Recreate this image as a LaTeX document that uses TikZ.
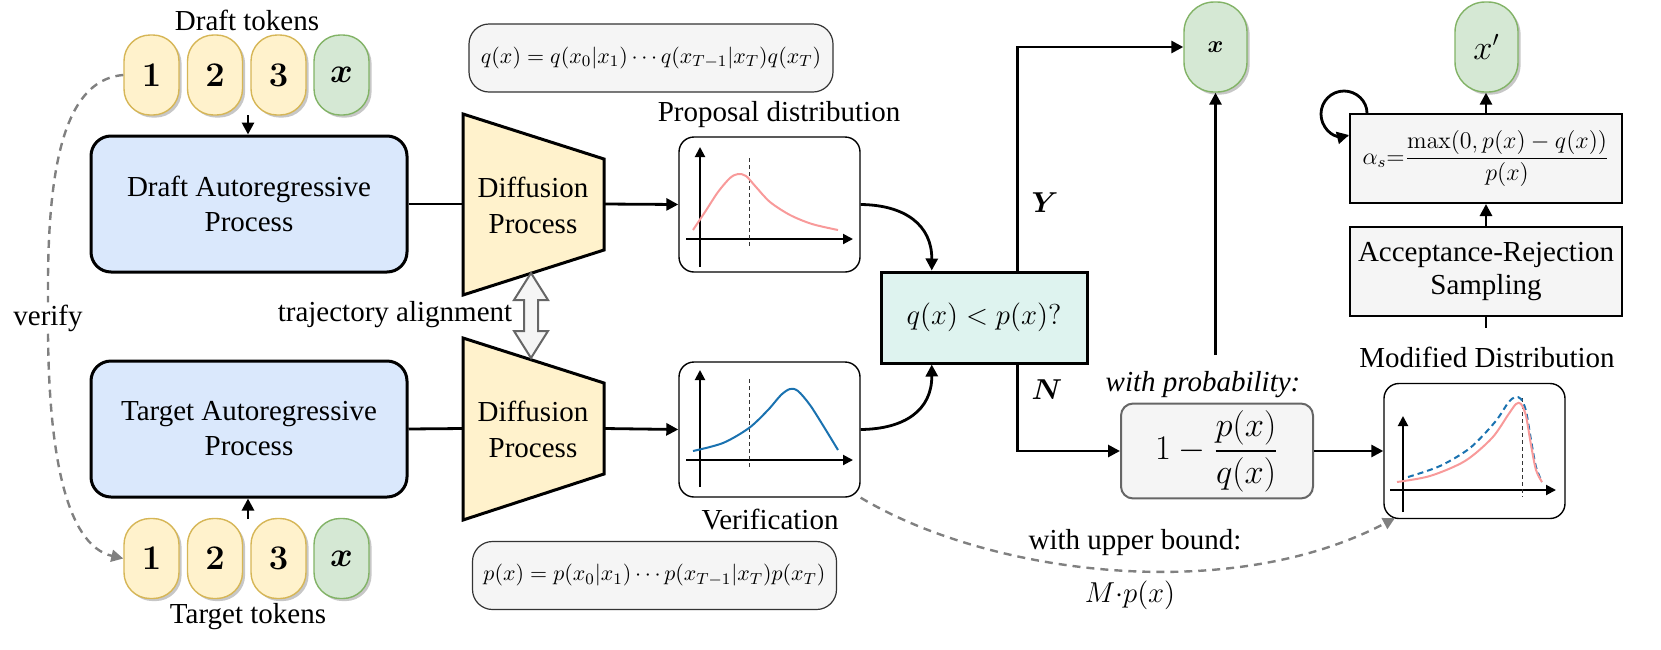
\documentclass[tikz,border=0pt]{standalone}
\usepackage[no-math]{fontspec}
\setmainfont{Liberation Serif}
\usepackage{amsmath}
\usepackage{bm}
\usetikzlibrary{arrows.meta,shadows,calc}
\definecolor{arblue}{HTML}{DAE8FC}
\definecolor{trapfill}{HTML}{FFF2CC}
\definecolor{tokyfill}{HTML}{FFF2CC}
\definecolor{tokydraw}{HTML}{D6B656}
\definecolor{tokgfill}{HTML}{D5E8D4}
\definecolor{tokgdraw}{HTML}{82B366}
\definecolor{lightgr}{HTML}{F5F5F5}
\definecolor{midgr}{HTML}{666666}
\definecolor{decfill}{HTML}{DEF3EF}
\definecolor{dashgr}{HTML}{808080}
\definecolor{curvered}{HTML}{F89A9A}
\definecolor{curveblue}{HTML}{1A72B0}
\begin{document}
\begin{tikzpicture}[x=0.5pt,y=-0.5pt,
  tokbox/.style={draw=tokydraw, fill=tokyfill, line width=0.7pt, rounded corners=13pt,
    minimum width=27.5pt, minimum height=40pt, inner sep=0pt,
    drop shadow={shadow xshift=1.3pt, shadow yshift=-1.3pt, fill=black!22, opacity=1},
    font=\fontsize{16}{19}\selectfont},
  tokgreen/.style={tokbox, draw=tokgdraw, fill=tokgfill},
  arbox/.style={draw=black, fill=arblue, line width=1.5pt, rounded corners=10pt,
    minimum width=158pt, minimum height=68pt, align=center, font=\fontsize{14.5}{17.5}\selectfont},
  gbox/.style={draw=black, line width=0.7pt, rounded corners=7.5pt,
    minimum width=90.5pt, minimum height=67.5pt, inner sep=0pt},
  formbox/.style={draw=black!80, fill=lightgr, line width=0.6pt, rounded corners=10pt,
    minimum width=182pt, minimum height=34pt, font=\fontsize{11.2}{13}\selectfont},
  decbox/.style={draw=black, fill=decfill, line width=1.5pt, minimum width=103pt,
    minimum height=45.5pt, font=\fontsize{14.5}{17}\selectfont},
  fracbox/.style={draw=midgr, fill=lightgr, line width=1pt, rounded corners=6pt,
    minimum width=96pt, minimum height=45pt, font=\fontsize{17}{20}\selectfont},
  sbox/.style={draw=black, fill=lightgr, line width=1pt, minimum width=136pt,
    minimum height=44.5pt, align=center, inner sep=1pt},
  lbl/.style={font=\fontsize{14.5}{17}\selectfont, inner sep=1pt},
  wire/.style={line width=1.4pt},
  arr/.style={wire, -{Triangle[length=6pt,width=6pt]}},
  gdash/.style={draw=dashgr, line width=1.2pt, dash pattern=on 4pt off 3pt,
    -{Triangle[length=6pt,width=6pt]}},
  axis/.style={line width=1pt, -{Triangle[length=5pt,width=5pt]}},
  vdash/.style={line width=0.5pt, dash pattern=on 2pt off 1.5pt, black!80},
  redc/.style={draw=curvered, line width=1pt},
  bluec/.style={draw=curveblue, line width=1pt},
  trapz/.style={draw=black, fill=trapfill, line width=1.5pt, line join=miter},
  dblarr/.style={draw=midgr, fill=lightgr, line width=1pt, line join=miter}
]
\useasboundingbox (0,0) rectangle (1661,649);

% ---------- tokens ----------
\node[lbl] (dtlab) at (247,20) {Draft tokens};
\node[tokbox] (t1) at (151.5,75) {$\mathbf{1}$};
\node[tokbox] (t2) at (215,75) {$\mathbf{2}$};
\node[tokbox] (t3) at (278.5,75) {$\mathbf{3}$};
\node[tokgreen] (t4) at (341.5,75) {$\bm{x}$};

\node[tokbox] (b1) at (151.5,558.5) {$\mathbf{1}$};
\node[tokbox] (b2) at (215,558.5) {$\mathbf{2}$};
\node[tokbox] (b3) at (278.5,558.5) {$\mathbf{3}$};
\node[tokgreen] (b4) at (341.5,558.5) {$\bm{x}$};
\node[lbl] (ttlab) at (248,617) {Target tokens};

% ---------- AR boxes ----------
\node[arbox] (draft) at (249,204) {Draft Autoregressive\\Process};
\node[arbox] (target) at (249,429) {Target Autoregressive\\Process};

\coordinate (dtrow) at (248,115);
\coordinate (ttrow) at (248,519);
\draw[arr] (dtrow) -- (draft.north -| dtrow);
\draw[arr] (ttrow) -- (target.south -| ttrow);

% verify
\node[lbl, fill=white] (vlab) at (48,318) {verify};
\draw[draw=dashgr, line width=1.2pt, dash pattern=on 4pt off 3pt] (t1.west) .. controls (60,80) and (47,180) .. (vlab.north);
\draw[gdash] (vlab.south) .. controls (49,450) and (65,545) .. (b1.west);

% ---------- diffusion trapezoids ----------
\draw[trapz] (463,114) -- (604,159) -- (604,250) -- (463,295) -- cycle;
\node[lbl, align=center, font=\fontsize{14.5}{18}\selectfont] (dif1) at (533,205) {Diffusion\\Process};
\coordinate (dif1w) at (463,204);
\coordinate (dif1e) at (604,204);

\draw[trapz] (463,338) -- (604,383) -- (604,474) -- (463,520) -- cycle;
\node[lbl, align=center, font=\fontsize{14.5}{18}\selectfont] (dif2) at (533,429) {Diffusion\\Process};
\coordinate (dif2w) at (463,428.5);
\coordinate (dif2e) at (604,428.5);

\draw[wire] (draft.east) -- (dif1w);
\draw[wire] (target.east) -- (dif2w);

% trajectory alignment
\draw[dblarr] (531,273) -- (548,300) -- (538,300) -- (538,331) -- (548,331) -- (531,358)
  -- (514,331) -- (524,331) -- (524,300) -- (514,300) -- cycle;
\node[lbl] (talab) at (395,315) {trajectory alignment};

% ---------- formula boxes ----------
\node[formbox] (qform) at (651,58) {$q(x)=q(x_0|x_1)\cdots q(x_{T-1}|x_T)q(x_T)$};
\node[formbox] (pform) at (654.5,575.5) {$p(x)=p(x_0|x_1)\cdots p(x_{T-1}|x_T)p(x_T)$};

% ---------- graphs ----------
\node[lbl] (proplab) at (779,115) {Proposal distribution};
\node[gbox] (prop) at (769.5,204.5) {};
\draw[axis] (700,267) -- (700,147);
\draw[axis] (686,239) -- (853,239);
\draw[vdash] (749,158) -- (749,249);
\draw[redc] plot[smooth] coordinates {(693,230) (705,212) (718,192) (730,178) (738,174) (746,176) (756,187) (770,202) (790,215) (812,224) (838,230)};

\node[gbox] (ver) at (769.5,429.5) {};
\draw[axis] (700,487) -- (700,370);
\draw[axis] (686,460) -- (853,460);
\draw[vdash] (749,379) -- (749,470);
\draw[bluec] plot[smooth] coordinates {(693,451) (723,443) (749,428) (768,410) (781,395) (790,389) (798,391) (810,405) (824,427) (838,450)};
\node[lbl] (verlab) at (770,520) {Verification};

\draw[arr] (dif1e) -- (prop.west);
\draw[arr] (dif2e) -- (ver.west);

% ---------- decision ----------
\node[decbox] (dec) at (984,317.5) {$q(x) < p(x)?$};
\coordinate (decTL) at ($(dec.north west)!0.25!(dec.north east)$);
\coordinate (decBL) at ($(dec.south west)!0.25!(dec.south east)$);
\coordinate (decTR) at ($(dec.north west)!0.66!(dec.north east)$);
\coordinate (decBR) at ($(dec.south west)!0.66!(dec.south east)$);
\draw[arr] (prop.east) .. controls (905,205) and (932,225) .. (decTL);
\draw[arr] (ver.east) .. controls (905,429) and (932,410) .. (decBL);

\node[tokgreen, minimum width=31.5pt, minimum height=45pt, rounded corners=15pt,
  font=\fontsize{13}{15}\selectfont] (xout) at (1215.5,47) {$\bm{x}$};
\draw[arr] (decTR) |- (xout.west);
\node[font=\fontsize{13.5}{16}\selectfont] (ylab) at (1045,203) {$\bm{Y}$};
\node[font=\fontsize{13.5}{16}\selectfont] (nlab) at (1047,390) {$\bm{N}$};

\node[fracbox] (frac) at (1217,451) {$1-\dfrac{p(x)}{q(x)}$};
\draw[arr] (decBR) |- (frac.west);
\node[lbl, font=\fontsize{14.5}{17}\selectfont\itshape] (wplab) at (1203,385) {with probability:};

\coordinate (vstart) at (1215.5,355);
\draw[arr] (vstart) -- (xout.south);

% ---------- modified distribution ----------
\node[lbl] (modlab) at (1487,357) {Modified Distribution};
\node[gbox] (mod) at (1474.5,451) {};
\draw[axis] (1403,512) -- (1403,416);
\draw[axis] (1390,490) -- (1556,490);
\draw[vdash] (1522,398) -- (1522,497);
\draw[bluec, dash pattern=on 3pt off 2pt] plot[smooth] coordinates {(1408,477) (1440,466) (1470,448) (1495,422) (1508,403) (1515,397) (1521,399) (1526,411) (1531,440) (1536,467) (1542,482)};
\draw[redc] plot[smooth] coordinates {(1397,482) (1430,476) (1465,461) (1492,438) (1508,415) (1516,404) (1521,404) (1526,416) (1531,445) (1536,470) (1542,482)};

\draw[arr] (frac.east) -- (mod.west);

\coordinate (modin) at (1395,518);
\draw[gdash] (ver.south east) .. controls (990,575) and (1230,605) .. (modin);
\node[lbl] (ublab) at (1135,543) {with upper bound:};
\node[lbl] (mplab) at (1130,595) {$M{\cdot}p(x)$};

% ---------- sampling ----------
\node[sbox, font=\fontsize{14.5}{16.5}\selectfont] (ar) at (1486,271.5) {Acceptance-Rejection\\Sampling};
\node[sbox, font=\fontsize{12}{14}\selectfont] (alpha) at (1486,158.5) {$\alpha_s{=}\dfrac{\max(0,p(x)-q(x))}{p(x)}$};
\node[tokgreen, minimum width=31.5pt, minimum height=45pt, rounded corners=15pt] (xp) at (1486.5,47) {$x'$};
\draw[arr] (ar.north) -- (alpha.south);
\draw[arr] (alpha.north) -- (alpha.north |- xp.south);
\coordinate (arstub) at (1486,328);
\draw[wire] (ar.south) -- (arstub);

% self loop
\coordinate (lps) at ($(alpha.north west)+(18,0)$);
\coordinate (lpe) at ($(alpha.north west)+(0,22)$);
\draw[arr] (lps) .. controls (1367,101.3) and (1356.7,91) .. (1344,91)
  .. controls (1331.3,91) and (1321,101.3) .. (1321,114)
  .. controls (1321,126.7) and (1331.3,137) .. (1341,137) -- (lpe);
\end{tikzpicture}
\end{document}
